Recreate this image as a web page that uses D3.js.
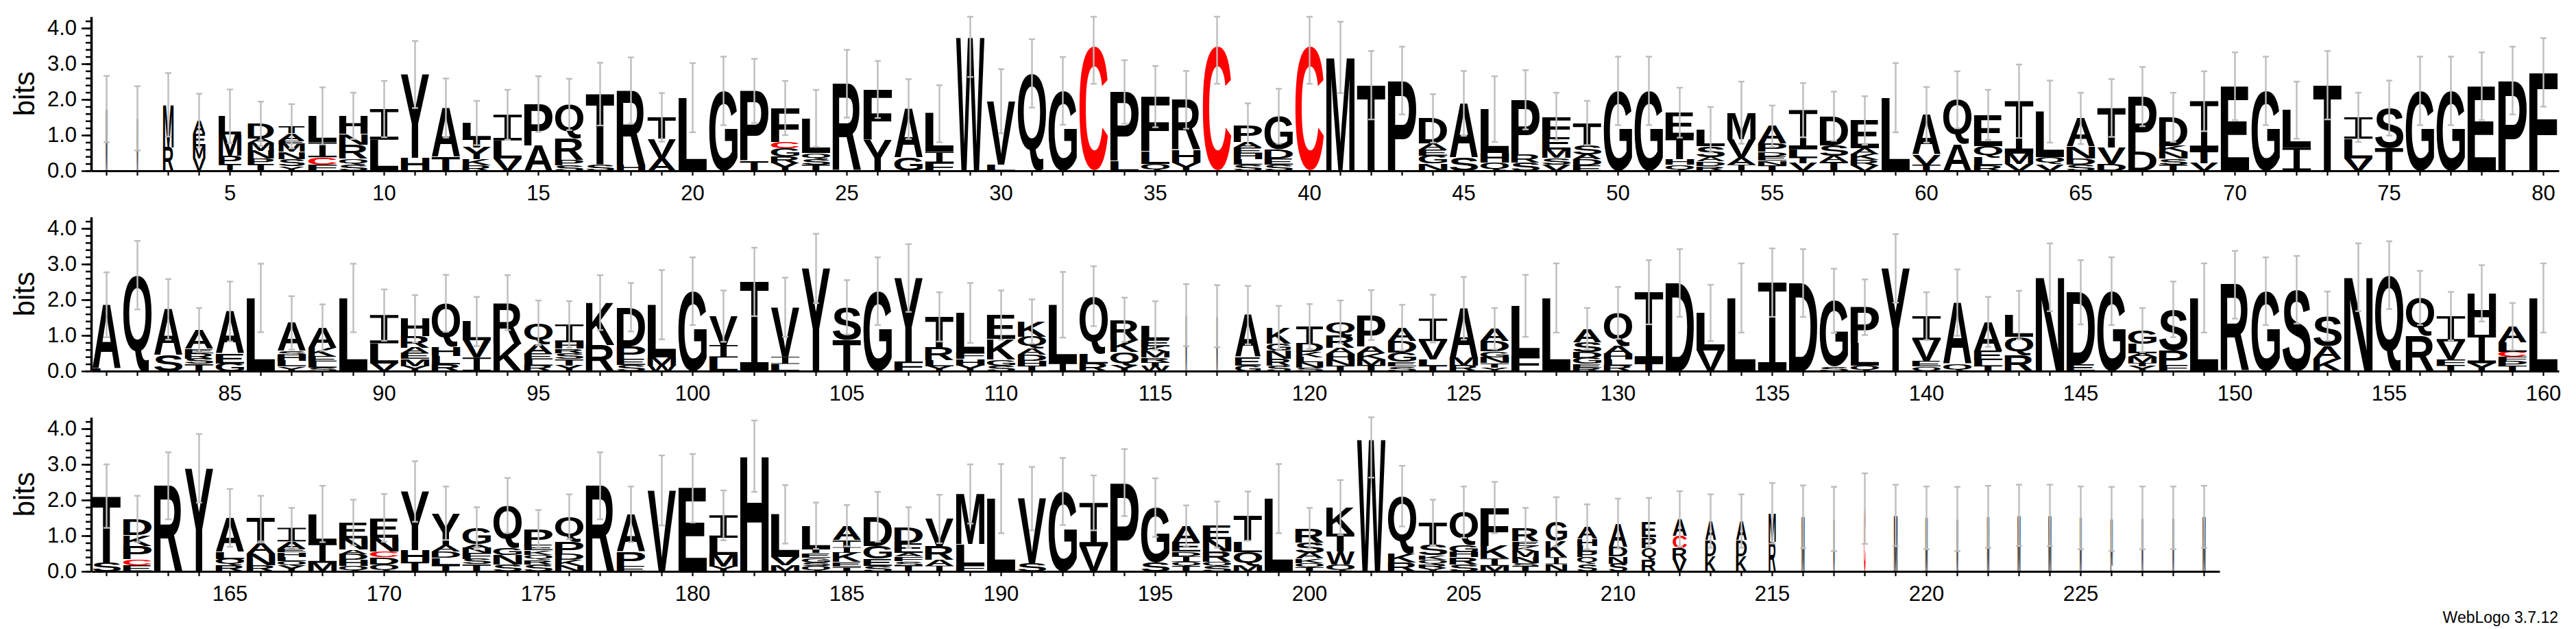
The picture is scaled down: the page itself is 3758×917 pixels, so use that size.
<!DOCTYPE html>
<html><head><meta charset="utf-8">
<script src="https://cdn.jsdelivr.net/npm/d3@7"></script>
<style>body{margin:0;background:#fff;} svg{display:block}</style>
</head><body>
<script>
// ---------- DATA (letters listed bottom -> top, heights in bits) ----------
const stackLetters = [
"M","M","RM","VMEA","TPML","TPNMAD","YSNMEAT","FCIL","SQRNH","LI",
"HY","TA","RKYTL","VLI","AP","SPRQ","ST","HR","AVT","L",
"G","TP","YRGCF","TSQL","R","YF","GA","FIL","W","LV",
"Q","G","C","LP","QLF","YHR","C","SLHEAP","SEDG","C",
"M","T","P","NGEAD","SA","QHL","SRP","VSMEF","EDAST","G",
"G","QHTE","RDASL","IAVM","TNEDPA","VTLI","TASD","VRKAE","L","TVA",
"AQ","RLQE","VMI","VQL","SDNA","DVT","DP","TSNKD","VTI","E",
"G","IL","T","VLI","TS","G","G","E","P","F",
"LA","Q","SA","TSREA","GEA","L","YLHSA","SLEKA","L","VLI",
"YMEARH","RLHQ","IVL","KR","RLEAQ","YTSRHI","RK","SEPD","WML","G",
"LIV","I","LIV","Y","TS","G","FY","YLRT","YHFL","SGKE",
"THDAQK","IL","RLQ","YQKR","WTRMKEL","M","M","GEA","SRNGK","SNLKDT",
"TNHARQ","TMKAP","SEGDA","TLVI","RMA","YTNGDA","FL","L","REGDSA","RLHAQ",
"TI","D","VL","L","I","D","SG","QLP","Y","QEVI",
"QA","TLEA","RQL","N","ED","G","YTMALG","FPS","L","R",
"G","S","KAS","N","Q","RQ","TFVI","YIH","TPFCLA","L",
"ST","ECPKD","R","Y","RQLA","RNAT","YQLHEAI","MIL","QHDANE","QDCNE",
"THY","TLDAY","TSFNAG","SNGQ","SRQKEP","NKDPQ","R","EPA","V","E",
"YMLI","H","MVL","QSGETL","TEKITA","SEGD","TSFAED","IARV","FLM","L",
"SV","G","VI","P","SG","TQIDEA","SQRNE","MQLT","L","TQKASR",
"QWTK","W","RKQ","YRQKST","SRHGQ","MIKF","TSNMKER","NIKG","SQPLHA","SNDA",
"RQPE","VRCA","KDA","KDA","RM","M","M","C","M","M",
"M","M","M","M","M","LM","M","M","M"
];
const stackBits = [
[1.73],[1.47],[.66,1.19],[.35,.35,.33,.38],[.2,.22,.6,.51],[.2,.14,.22,.22,.12,.42],[.13,.2,.2,.22,.1,.2,.2],[.17,.21,.42,.74],[.17,.17,.4,.3,.5],[.87,.86],
[.37,2.33],[.39,1.37],[.15,.17,.33,.25,.44],[.35,.5,.72],[.71,1.16],[.15,.15,.6,.96],[.17,1.98],[.16,2.09],[.35,.55,.6],[2.05],
[2.24],[.28,1.96],[.21,.2,.22,.18,.95],[.17,.16,.17,.97],[2.44],[.87,1.41],[.37,1.36],[.23,.3,1.07],[3.73],[.17,1.78],
[2.73],[2.24],[3.47],[.28,1.93],[.2,.35,1.53],[.23,.35,1.41],[3.47],[.18,.15,.16,.17,.15,.47],[.17,.18,.25,.93],[3.47],
[3.18],[2.4],[2.53],[.2,.22,.17,.17,.71],[.37,1.52],[.23,.27,1.23],[.23,.23,1.53],[.18,.18,.24,.35,.58],[.15,.17,.14,.25,.63],[2.24],
[2.24],[.17,.15,.64,.67],[.13,.13,.13,.3,.46],[.17,.2,.52,.74],[.15,.13,.13,.13,.22,.49],[.21,.16,.23,1.1],[.24,.17,.3,.82],[.15,.15,.17,.16,.78],[2.05],[.16,.3,1.11],
[.74,1.25],[.15,.23,.32,.87],[.19,.29,1.47],[.18,.2,1.28],[.18,.17,.33,.79],[.19,.46,1.11],[.53,1.55],[.18,.16,.19,.17,.8],[.21,.36,1.38],[2.37],
[2.24],[.65,1.05],[2.4],[.35,.55,.6],[.64,1.12],[2.24],[2.24],[2.37],[2.53],[2.76],
[.07,1.79],[2.69],[.45,1.28],[.2,.15,.15,.13,.52],[.22,.27,1.18],[2.05],[.13,.16,.16,.12,.78],[.1,.16,.14,.25,.57],[2.05],[.22,.56,.79],
[.14,.2,.16,.16,.32,.49],[.2,.23,.25,1.22],[.38,.48,.53],[.77,1.15],[.16,.16,.16,.28,.59],[.16,.18,.16,.13,.18,.5],[.74,1.18],[.17,.18,.35,1.09],[.16,.22,1.48],[2.24],
[.38,.35,.81],[2.5],[.2,.2,1.39],[2.88],[.87,.92],[2.24],[.26,2.35],[.14,.16,.36,.86],[.16,.18,.16,1.13],[.16,.16,.58,.67],
[.14,.15,.17,.17,.34,.42],[.22,1.64],[.22,.26,1.62],[.16,.37,.33,.58],[.14,.11,.13,.16,.16,.19,.39],[1.57],[1.54],[.16,.23,1.18],[.16,.19,.22,.2,.45],[.1,.15,.14,.14,.25,.47],
[.15,.16,.17,.17,.35,.38],[.16,.17,.17,.2,.87],[.13,.13,.26,.32,.38],[.14,.19,.51,.63],[.16,.22,1.38],[.1,.13,.16,.16,.29,.35],[.42,1.41],[2.05],[.1,.1,.17,.16,.28,.38],[.16,.16,.16,.22,.93],
[.22,1.99],[2.47],[.58,1.05],[2.05],[2.48],[2.47],[.12,1.85],[.15,.63,1.01],[2.88],[.13,.15,.59,.67],
[.2,1.72],[.14,.16,.26,.82],[.45,.51,.61],[2.63],[.2,2.01],[2.24],[.14,.1,.16,.1,.26,.39],[.16,.42,1.15],[2.05],[2.42],
[2.24],[2.28],[.35,.35,.84],[2.63],[2.69],[1.0,1.05],[.16,.16,.51,.71],[.22,.8,1.16],[.14,.14,.12,.14,.27,.44],[2.05],
[.25,1.86],[.18,.16,.38,.3,.45],[2.4],[2.89],[.17,.18,.2,.95],[.18,.32,.3,.68],[.16,.12,.13,.13,.1,.2,.38],[.24,.55,.82],[.16,.16,.16,.13,.32,.44],[.2,.2,.16,.39,.55],
[.26,.33,1.65],[.18,.2,.17,.17,.91],[.2,.15,.16,.15,.1,.45],[.2,.26,.2,1.19],[.2,.13,.13,.13,.15,.44],[.16,.16,.17,.35,.69],[2.4],[.15,.4,1.05],[2.27],[2.33],
[.14,.32,.48,.63],[3.23],[.17,.23,1.2],[.15,.1,.13,.13,.13,.64],[.13,.13,.26,.16,.2,.4],[.16,.2,.35,.82],[.16,.13,.13,.1,.26,.45],[.16,.16,.4,.75],[.16,.6,1.41],[2.04],
[.23,1.81],[2.24],[.7,1.22],[2.49],[.25,1.54],[.14,.13,.15,.13,.26,.47],[.14,.13,.29,.35,.4],[.16,.38,.3,.71],[2.04],[.12,.11,.13,.16,.29,.4],
[.2,.36,.5,.73],[3.69],[.25,.25,1.61],[.1,.1,.13,.13,.29,.62],[.2,.2,.14,.2,.92],[.16,.2,.36,1.07],[.14,.1,.16,.16,.15,.13,.37],[.2,.2,.45,.54],[.2,.2,.16,.16,.2,.33],[.22,.2,.27,.65],
[.33,.33,.3,.41],[.33,.32,.35,.47],[.43,.45,.53],[.43,.45,.53],[.83,.8],[1.53],[1.47],[1.76],[1.57],[1.5],
[1.47],[1.53],[1.57],[1.57],[1.5],[.15,1.32],[1.5],[1.5],[1.53]
];
const errorBits = [
.93,.9,.89,.75,.75,.62,.62,.8,.65,.79,
.94,.83,.62,.7,.78,.72,.88,.93,.68,.97,
.96,.9,.76,.8,.95,.8,.84,.8,1.1,.9,
.96,.95,1.03,.89,.86,.81,1.03,.61,.77,1.03,
1.0,.96,.95,.68,.91,.92,.83,.66,.62,.96,
.96,.7,.64,.87,.58,.76,.69,.68,.97,.78,
.8,.7,1.03,.87,.72,.81,.83,.69,.84,.95,
.96,.8,.96,.69,.77,.96,.96,.95,.95,.96,
.91,.96,.85,.62,.84,.96,.75,.65,.96,.72,
.66,.8,.69,.77,.63,.65,.77,.68,.97,.95,
.72,.96,.83,.97,.76,.95,.95,.69,.84,.69,
.62,.92,.84,.62,.68,.87,.87,.82,.61,.63,
.6,.7,.64,.67,.88,.58,.87,.97,.58,.73,
.9,.95,.79,.97,.96,.95,.9,.78,.96,.67,
.93,.7,.68,.95,.9,.95,.62,.78,.97,.95,
.95,.95,.69,.95,.95,.76,.68,.79,.66,.97,
.89,.65,.94,.96,.81,.64,.56,.79,.64,.67,
.85,.75,.59,.77,.54,.63,.94,.78,.98,.96,
.7,1.0,.82,.65,.58,.7,.57,.68,.83,.97,
.89,.94,.77,.94,.82,.57,.65,.69,.97,.57,
.77,1.06,.85,.64,.72,.72,.57,.69,.63,.7,
.69,.78,.75,.75,.85,.88,.9,.99,.86,.88,
.9,.87,.86,.86,.88,.9,.88,.88,.87
];
// fraction of full column width used by each stack (occupancy)
const stackWidths = [
.06,.05,.37,.44,.8,.92,.92,1,1,1, 1,1,1,1,1,1,1,1,1,1, 1,1,1,1,1,1,1,1,1,1, 1,1,1,1,1,1,1,1,1,1,
1,1,1,1,1,1,1,1,1,1, 1,1,1,1,1,1,1,1,1,1, 1,1,1,1,1,1,1,1,1,1, 1,1,1,1,1,1,1,1,1,1,
1,1,1,1,1,1,1,1,1,1, 1,1,1,1,1,1,1,1,1,1, 1,1,1,1,1,1,1,1,1,1, 1,1,1,1,1,.05,.05,.9,.85,.95,
1,1,1,1,1,1,1,1,1,1, 1,1,1,1,1,1,1,1,1,1, 1,1,1,1,1,1,1,1,1,1, 1,1,1,1,1,1,1,1,1,1,
1,1,1,1,1,1,1,1,1,1, 1,1,1,1,1,1,1,1,1,1, 1,1,1,1,1,1,1,1,1,1, 1,1,1,1,1,1,1,1,1,1,
1,1,1,1,1,1,.93,.75,.7,.65, .5,.5,.38,.38,.25,.1,.05,.06,.12,.08, .06,.08,.1,.1,.07,.08,.06,.06,.1
];
const positions = d3.range(1, stackLetters.length + 1);
const yMajorTicks = [0, 1, 2, 3, 4];
const yMinorTicks = d3.range(0, 4.31, 0.2);
const versionLabel = "WebLogo 3.7.12";
const axisTitle = "bits";

// ---------- LAYOUT ----------
const W = 3758, H = 917;
const perRow = 80, colW = 45, xLeft = 133, bitPx = 52, yMax = 4.32;
const rowBase = [249, 541, 833];
const letterFull = 41.4;
const FONT_FAMILY = "'Liberation Sans', Arial, Helvetica, sans-serif";

const svg = d3.select("body").append("svg").attr("width", W).attr("height", H)
  .style("background", "#fff");

const ctx = document.createElement("canvas").getContext("2d");
ctx.font = "bold 200px " + FONT_FAMILY;
const gcache = {};
function glyph(ch) {
  if (!gcache[ch]) {
    const m = ctx.measureText(ch);
    gcache[ch] = {l: m.actualBoundingBoxLeft, r: m.actualBoundingBoxRight,
                  a: m.actualBoundingBoxAscent, d: m.actualBoundingBoxDescent};
  }
  return gcache[ch];
}
// serif "I" shape in a unit box (WebLogo draws I with top and bottom bars)
const unitI = d3.path();
(function(){
  const b = 0.1, s0 = 0.39, s1 = 0.61;
  unitI.moveTo(0,0); unitI.lineTo(1,0); unitI.lineTo(1,b); unitI.lineTo(s1,b);
  unitI.lineTo(s1,1-b); unitI.lineTo(1,1-b); unitI.lineTo(1,1); unitI.lineTo(0,1);
  unitI.lineTo(0,1-b); unitI.lineTo(s0,1-b); unitI.lineTo(s0,b); unitI.lineTo(0,b); unitI.closePath();
})();

const nRows = Math.ceil(positions.length / perRow);
for (let r = 0; r < nRows; r++) {
  const rowPos = positions.slice(r * perRow, (r + 1) * perRow);
  const x = d3.scaleBand().domain(rowPos).range([xLeft, xLeft + rowPos.length * colW]);
  const y = d3.scaleLinear().domain([0, yMax]).range([rowBase[r], rowBase[r] - yMax * bitPx]);
  const g = svg.append("g");

  // letters
  rowPos.forEach(p => {
    const i = p - 1;
    const letters = stackLetters[i], bits = stackBits[i];
    const bw = letterFull * stackWidths[i];
    const cx = x(p) + x.bandwidth() / 2;
    let cum = 0;
    for (let k = 0; k < letters.length; k++) {
      const ch = letters[k], h = bits[k];
      const yTop = y(cum + h), yBot = y(cum);
      cum += h;
      const bh = yBot - yTop;
      if (bh <= 0) continue;
      const col = ch === "C" ? "#ff0000" : "#000";
      if (ch === "I") {
        g.append("path").attr("d", unitI.toString())
          .attr("transform", `translate(${cx - bw / 2},${yTop}) scale(${bw},${bh})`)
          .attr("fill", col);
        continue;
      }
      const gm = glyph(ch);
      const sx = bw / (gm.l + gm.r), sy = bh / (gm.a + gm.d);
      g.append("text")
        .attr("transform", `translate(${cx - bw / 2},${yTop}) scale(${sx},${sy}) translate(${gm.l},${gm.a})`)
        .attr("font-family", FONT_FAMILY).attr("font-weight", "bold").attr("font-size", 200)
        .attr("fill", col)
        .text(ch);
    }
    // error bar
    const top = d3.sum(bits), e = errorBits[i];
    const y1 = y(Math.max(0, top - e)), y2 = y(Math.min(yMax, top + e));
    const eg = g.append("g").attr("stroke", "#bdbdbd").attr("stroke-width", 2.4);
    eg.append("line").attr("x1", cx).attr("x2", cx).attr("y1", y1).attr("y2", y2);
    eg.append("line").attr("x1", cx - 4.5).attr("x2", cx + 4.5).attr("y1", y1).attr("y2", y1);
    eg.append("line").attr("x1", cx - 4.5).attr("x2", cx + 4.5).attr("y1", y2).attr("y2", y2);
  });

  // y axis minor
  const yMinor = g.append("g").attr("transform", `translate(${xLeft},0)`)
    .call(d3.axisLeft(y).tickValues(yMinorTicks).tickSize(8).tickFormat(""));
  yMinor.select(".domain").remove();
  yMinor.selectAll("line").attr("stroke", "#000").attr("stroke-width", 2.5);
  // y axis major
  const yAx = g.append("g").attr("transform", `translate(${xLeft},0)`)
    .call(d3.axisLeft(y).tickValues(yMajorTicks).tickSize(14).tickSizeOuter(0).tickPadding(7).tickFormat(d3.format(".1f")));
  yAx.select(".domain").attr("stroke", "#000").attr("stroke-width", 3.5);
  yAx.selectAll(".tick line").attr("stroke", "#000").attr("stroke-width", 2.5);
  yAx.selectAll("text").attr("font-family", FONT_FAMILY).attr("font-size", 31).attr("fill", "#000");

  // x axis
  const xAx = g.append("g").attr("transform", `translate(0,${rowBase[r]})`)
    .call(d3.axisBottom(x).tickSize(7).tickSizeOuter(0).tickPadding(14)
      .tickFormat(p => p % 5 === 0 ? p : ""));
  xAx.select(".domain").attr("stroke", "#000").attr("stroke-width", 3);
  xAx.selectAll(".tick line").attr("stroke", "#000").attr("stroke-width", 2.2);
  xAx.selectAll("text").attr("font-family", FONT_FAMILY).attr("font-size", 31).attr("fill", "#000");

  // axis title
  g.append("text")
    .attr("transform", `translate(50,${y(yMax / 2)}) rotate(-90)`)
    .attr("text-anchor", "middle")
    .attr("font-family", FONT_FAMILY).attr("font-size", 42).attr("fill", "#000")
    .text(axisTitle);
}

svg.append("text").attr("x", 3732).attr("y", 908).attr("text-anchor", "end")
  .attr("font-family", FONT_FAMILY).attr("font-size", 23).attr("fill", "#000")
  .text(versionLabel);
</script>
</body></html>
